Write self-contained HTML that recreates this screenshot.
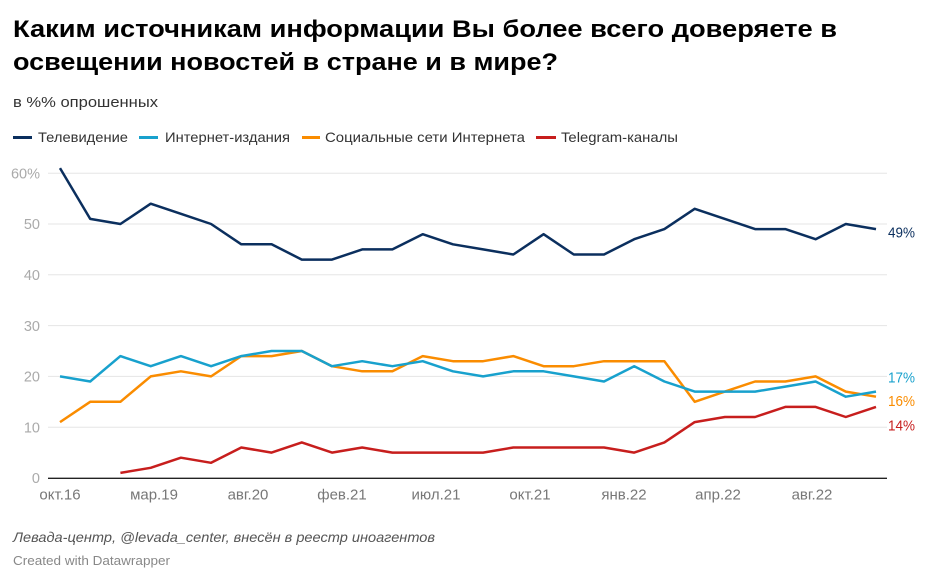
<!DOCTYPE html>
<html><head><meta charset="utf-8"><style>
html,body{margin:0;padding:0;background:#fff;}
svg{display:block;}
text{font-family:"Liberation Sans","Noto Sans CJK SC",sans-serif;}
</style></head><body>
<svg width="940" height="581" viewBox="0 0 940 581" xmlns="http://www.w3.org/2000/svg">
<rect width="940" height="581" fill="#fff"/>
<text x="13" y="37" font-size="24" font-weight="bold" fill="#000" textLength="824" lengthAdjust="spacingAndGlyphs">Каким источникам информации Вы более всего доверяете в</text>
<text x="13" y="70" font-size="24" font-weight="bold" fill="#000" textLength="545" lengthAdjust="spacingAndGlyphs">освещении новостей в стране и в мире?</text>
<text x="13" y="107" font-size="15" fill="#333" textLength="145" lengthAdjust="spacingAndGlyphs">в %% опрошенных</text>

<g stroke-width="3">
<line x1="13" y1="137.5" x2="32" y2="137.5" stroke="#0b2f5e"/>
<line x1="139" y1="137.5" x2="158" y2="137.5" stroke="#18a1cd"/>
<line x1="302" y1="137.5" x2="320" y2="137.5" stroke="#fa8c00"/>
<line x1="536" y1="137.5" x2="556" y2="137.5" stroke="#c71e1d"/>
</g>
<g font-size="14" fill="#333">
<text x="38" y="142" textLength="90" lengthAdjust="spacingAndGlyphs">Телевидение</text>
<text x="165" y="142" textLength="125" lengthAdjust="spacingAndGlyphs">Интернет-издания</text>
<text x="325" y="142" textLength="200" lengthAdjust="spacingAndGlyphs">Социальные сети Интернета</text>
<text x="561" y="142" textLength="117" lengthAdjust="spacingAndGlyphs">Telegram-каналы</text>
</g>

<g stroke="#e5e5e5" stroke-width="1">
<line x1="48" y1="173.2" x2="887" y2="173.2"/>
<line x1="48" y1="224" x2="887" y2="224"/>
<line x1="48" y1="274.8" x2="887" y2="274.8"/>
<line x1="48" y1="325.6" x2="887" y2="325.6"/>
<line x1="48" y1="376.4" x2="887" y2="376.4"/>
<line x1="48" y1="427.2" x2="887" y2="427.2"/>
</g>
<line x1="48" y1="478.3" x2="887" y2="478.3" stroke="#222" stroke-width="1.3"/>

<g font-size="14.5" fill="#aaa" text-anchor="end">
<text x="40" y="178.4">60%</text>
<text x="40" y="229.2">50</text>
<text x="40" y="280">40</text>
<text x="40" y="330.8">30</text>
<text x="40" y="381.6">20</text>
<text x="40" y="432.4">10</text>
<text x="40" y="483.2">0</text>
</g>

<g font-size="15" fill="#777" text-anchor="middle">
<text x="60" y="499.5">окт.16</text>
<text x="154" y="499.5">мар.19</text>
<text x="248" y="499.5">авг.20</text>
<text x="342" y="499.5">фев.21</text>
<text x="436" y="499.5">июл.21</text>
<text x="530" y="499.5">окт.21</text>
<text x="624" y="499.5">янв.22</text>
<text x="718" y="499.5">апр.22</text>
<text x="812" y="499.5">авг.22</text>
</g>

<g fill="none" stroke-width="2.5" stroke-linejoin="round" stroke-linecap="butt">
<polyline stroke="#c71e1d" points="120.4,472.9 150.7,467.8 180.9,457.7 211.1,462.8 241.3,447.5 271.6,452.6 301.8,442.4 332,452.6 362.2,447.5 392.4,452.6 422.7,452.6 452.9,452.6 483.1,452.6 513.3,447.5 543.6,447.5 573.8,447.5 604,447.5 634.2,452.6 664.4,442.4 694.7,422.1 724.9,417 755.1,417 785.3,406.9 815.6,406.9 845.8,417 876,406.9"/>
<polyline stroke="#fa8c00" points="60,422.1 90.2,401.8 120.4,401.8 150.7,376.4 180.9,371.3 211.1,376.4 241.3,356.1 271.6,356.1 301.8,351 332,366.2 362.2,371.3 392.4,371.3 422.7,356.1 452.9,361.2 483.1,361.2 513.3,356.1 543.6,366.2 573.8,366.2 604,361.2 634.2,361.2 664.4,361.2 694.7,401.8 724.9,391.6 755.1,381.5 785.3,381.5 815.6,376.4 845.8,391.6 876,396.7"/>
<polyline stroke="#18a1cd" points="60,376.4 90.2,381.5 120.4,356.1 150.7,366.2 180.9,356.1 211.1,366.2 241.3,356.1 271.6,351 301.8,351 332,366.2 362.2,361.2 392.4,366.2 422.7,361.2 452.9,371.3 483.1,376.4 513.3,371.3 543.6,371.3 573.8,376.4 604,381.5 634.2,366.2 664.4,381.5 694.7,391.6 724.9,391.6 755.1,391.6 785.3,386.6 815.6,381.5 845.8,396.7 876,391.6"/>
<polyline stroke="#0b2f5e" points="60,168.1 90.2,218.9 120.4,224 150.7,203.7 180.9,213.8 211.1,224 241.3,244.3 271.6,244.3 301.8,259.6 332,259.6 362.2,249.4 392.4,249.4 422.7,234.2 452.9,244.3 483.1,249.4 513.3,254.5 543.6,234.2 573.8,254.5 604,254.5 634.2,239.2 664.4,229.1 694.7,208.8 724.9,218.9 755.1,229.1 785.3,229.1 815.6,239.2 845.8,224 876,229.1"/>
</g>

<g font-size="15">
<text x="888" y="237.5" fill="#0b2f5e" textLength="27" lengthAdjust="spacingAndGlyphs">49%</text>
<text x="888" y="382.5" fill="#18a1cd" textLength="27" lengthAdjust="spacingAndGlyphs">17%</text>
<text x="888" y="406" fill="#fa8c00" textLength="27" lengthAdjust="spacingAndGlyphs">16%</text>
<text x="888" y="430.5" fill="#c71e1d" textLength="27" lengthAdjust="spacingAndGlyphs">14%</text>
</g>

<text x="13" y="542" font-size="14" font-style="italic" fill="#555" textLength="422" lengthAdjust="spacingAndGlyphs">Левада-центр, @levada_center, внесён в реестр иноагентов</text>
<text x="13" y="565" font-size="13" fill="#888" textLength="157" lengthAdjust="spacingAndGlyphs">Created with Datawrapper</text>
</svg>
</body></html>
